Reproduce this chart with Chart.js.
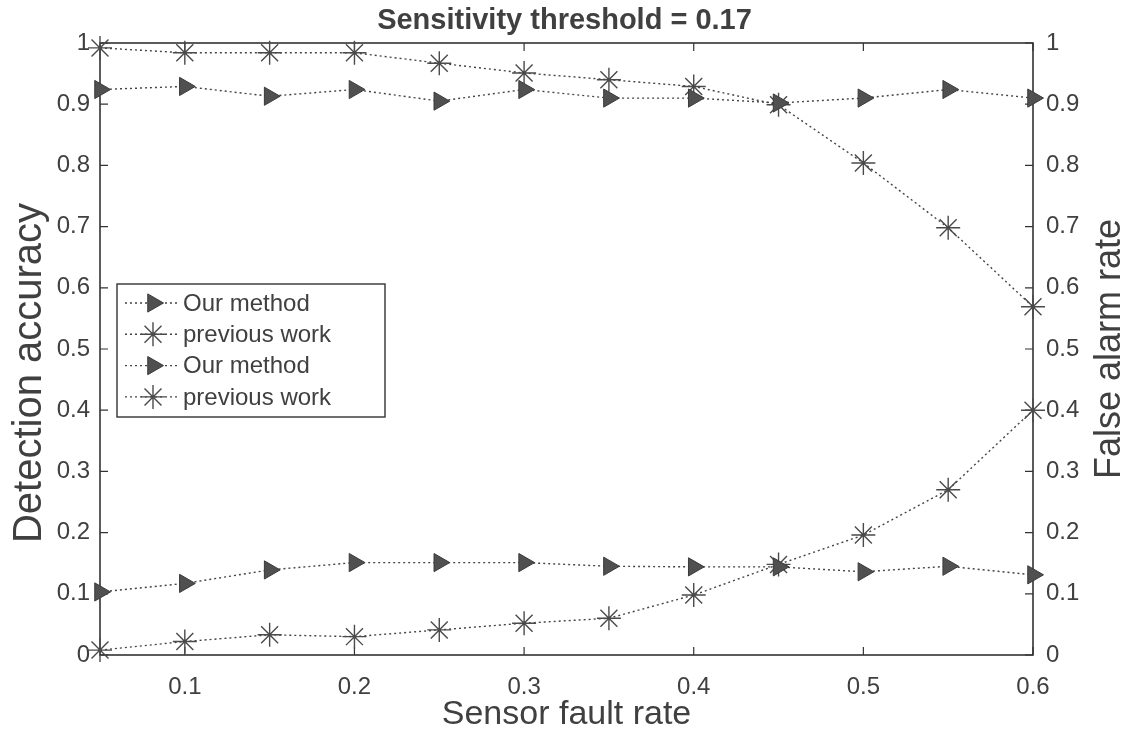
<!DOCTYPE html>
<html>
<head>
<meta charset="utf-8">
<script src="https://cdn.jsdelivr.net/npm/chart.js@4/dist/chart.umd.min.js"></script>
<style>
html,body{margin:0;padding:0;background:#ffffff;}
#wrap{width:1129px;height:736px;}
</style>
</head>
<body>
<div id="wrap"><canvas id="c" width="1129" height="736"></canvas></div>
<script>
// ---------------- data ----------------
const faultRates     = [0.05, 0.10, 0.15, 0.20, 0.25, 0.30, 0.35, 0.40, 0.45, 0.50, 0.55, 0.60];
const ourAccuracy    = [0.924, 0.929, 0.913, 0.924, 0.905, 0.924, 0.910, 0.910, 0.902, 0.910, 0.924, 0.910];
const prevAccuracy   = [0.992, 0.984, 0.984, 0.984, 0.967, 0.951, 0.940, 0.929, 0.899, 0.804, 0.698, 0.569];
const ourFalseAlarm  = [0.103, 0.117, 0.139, 0.151, 0.151, 0.151, 0.145, 0.144, 0.144, 0.136, 0.145, 0.131];
const prevFalseAlarm = [0.008, 0.022, 0.033, 0.030, 0.041, 0.052, 0.060, 0.098, 0.148, 0.196, 0.270, 0.400];
const xTicks = [0.1, 0.2, 0.3, 0.4, 0.5, 0.6];
const xTickLabels = ['0.1', '0.2', '0.3', '0.4', '0.5', '0.6'];
const yTicks = [0, 0.1, 0.2, 0.3, 0.4, 0.5, 0.6, 0.7, 0.8, 0.9, 1];
const yTickLabels = ['0', '0.1', '0.2', '0.3', '0.4', '0.5', '0.6', '0.7', '0.8', '0.9', '1'];
const seriesLabels = ['Our method', 'previous work', 'Our method', 'previous work'];
const titleText = 'Sensitivity threshold = 0.17';
const xTitle = 'Sensor fault rate';
const yLeftTitle = 'Detection accuracy';
const yRightTitle = 'False alarm rate';

// ---------------- styles ----------------
const FONT = '"Liberation Sans", Arial, Helvetica, sans-serif';
const TEXT = '#404040';
const LINE = '#444444';

function pts(arr) { return faultRates.map((x, i) => ({x: x, y: arr[i]})); }

function styleFor(kind) {
  if (kind === 'tri') {
    return {pointStyle: 'triangle', pointRotation: 90, pointRadius: 10.5,
            pointBackgroundColor: '#505050', pointBorderColor: '#3a3a3a', pointBorderWidth: 1};
  }
  return {pointStyle: 'star', pointRotation: 0, pointRadius: 12,
          pointBackgroundColor: '#555', pointBorderColor: '#4a4a4a', pointBorderWidth: 1.4};
}

function makeDs(label, arr, axis, kind) {
  return Object.assign({
    label: label,
    data: pts(arr),
    yAxisID: axis,
    borderColor: LINE,
    borderWidth: 1.4,
    borderDash: [2, 3],
    tension: 0,
    fill: false,
    clip: false
  }, styleFor(kind));
}

const datasets = [
  makeDs(seriesLabels[0], ourAccuracy, 'y', 'tri'),
  makeDs(seriesLabels[1], prevAccuracy, 'y', 'star'),
  makeDs(seriesLabels[2], ourFalseAlarm, 'y2', 'tri'),
  makeDs(seriesLabels[3], prevFalseAlarm, 'y2', 'star')
];

function drawMarker(ctx, ds, x, y) {
  ctx.save();
  ctx.fillStyle = ds.pointBackgroundColor;
  ctx.strokeStyle = ds.pointBorderColor;
  ctx.lineWidth = ds.pointBorderWidth;
  ctx.setLineDash([]);
  const opts = {pointStyle: ds.pointStyle, rotation: ds.pointRotation, radius: ds.pointRadius, borderWidth: ds.pointBorderWidth};
  if (Chart.helpers && Chart.helpers.drawPoint) {
    Chart.helpers.drawPoint(ctx, opts, x, y);
  }
  ctx.restore();
}

function rotatedText(ctx, text, size, cx, cy) {
  ctx.save();
  ctx.fillStyle = TEXT;
  ctx.font = size + 'px ' + FONT;
  ctx.textAlign = 'center';
  ctx.textBaseline = 'middle';
  ctx.translate(cx, cy);
  ctx.rotate(-Math.PI / 2);
  ctx.fillText(text, 0, 0);
  ctx.restore();
}

// frame with inward ticks (MATLAB box style), axis titles, legend
const framePlugin = {
  id: 'frame',
  beforeDatasetsDraw(chart) {
    const {ctx, chartArea: a, scales} = chart;
    ctx.save();
    ctx.strokeStyle = '#333333';
    ctx.lineWidth = 1.6;
    ctx.setLineDash([]);
    ctx.strokeRect(a.left, a.top, a.right - a.left, a.bottom - a.top);
    ctx.lineWidth = 1.2;
    const tl = 8;
    ctx.beginPath();
    xTicks.forEach(v => {
      const px = scales.x.getPixelForValue(v);
      ctx.moveTo(px, a.bottom); ctx.lineTo(px, a.bottom - tl);
      ctx.moveTo(px, a.top); ctx.lineTo(px, a.top + tl);
    });
    yTicks.forEach(v => {
      const pl = scales.y.getPixelForValue(v);
      ctx.moveTo(a.left, pl); ctx.lineTo(a.left + tl, pl);
      const pr = scales.y2.getPixelForValue(v);
      ctx.moveTo(a.right, pr); ctx.lineTo(a.right - tl, pr);
    });
    ctx.stroke();
    ctx.restore();
  },
  afterDraw(chart) {
    const {ctx, chartArea: a} = chart;
    // y axis titles, both reading bottom to top
    rotatedText(ctx, yLeftTitle, 40, 30, (a.top + a.bottom) / 2 + 24);
    rotatedText(ctx, yRightTitle, 36, 1110, (a.top + a.bottom) / 2);

    // legend box
    const bx = 117, by = 284, bw = 268, bh = 133;
    ctx.save();
    ctx.fillStyle = '#ffffff';
    ctx.fillRect(bx, by, bw, bh);
    ctx.strokeStyle = '#333333';
    ctx.lineWidth = 1.4;
    ctx.strokeRect(bx, by, bw, bh);
    chart.data.datasets.forEach((ds, i) => {
      const y = by + 19 + i * 31.3;
      ctx.strokeStyle = ds.borderColor;
      ctx.lineWidth = ds.borderWidth;
      ctx.setLineDash(ds.borderDash);
      ctx.beginPath();
      ctx.moveTo(bx + 8, y); ctx.lineTo(bx + 62, y);
      ctx.stroke();
      drawMarker(ctx, ds, bx + 36, y);
      ctx.setLineDash([]);
      ctx.fillStyle = TEXT;
      ctx.font = '24px ' + FONT;
      ctx.textAlign = 'left';
      ctx.textBaseline = 'middle';
      ctx.fillText(ds.label, bx + 66, y + 1);
    });
    ctx.restore();
  }
};

const tickFont = {family: FONT, size: 24};

new Chart(document.getElementById('c'), {
  type: 'line',
  data: {datasets: datasets},
  plugins: [framePlugin],
  options: {
    responsive: false,
    animation: false,
    devicePixelRatio: 1,
    layout: {padding: 0},
    plugins: {
      legend: {display: false},
      tooltip: {enabled: false},
      title: {
        display: true,
        text: titleText,
        color: TEXT,
        font: {family: FONT, size: 29, weight: 'bold'},
        padding: {top: 4, bottom: 4.2}
      }
    },
    scales: {
      x: {
        type: 'linear',
        position: 'bottom',
        min: 0.05,
        max: 0.6,
        afterBuildTicks: s => { s.ticks = xTicks.map(v => ({value: v})); },
        afterFit: s => { s.height = 81; },
        grid: {display: false, drawTicks: false},
        border: {display: false},
        ticks: {
          color: TEXT, font: tickFont, padding: 18, maxRotation: 0, minRotation: 0,
          callback: (v, i) => xTickLabels[i]
        },
        title: {display: true, text: xTitle, color: TEXT,
                font: {family: FONT, size: 34}, padding: {top: 0, bottom: 0.5}}
      },
      y: {
        type: 'linear',
        position: 'left',
        min: 0,
        max: 1,
        afterBuildTicks: s => { s.ticks = yTicks.map(v => ({value: v})); },
        afterFit: s => { s.width = 100; },
        grid: {display: false, drawTicks: false},
        border: {display: false},
        ticks: {color: TEXT, font: tickFont, padding: 10, callback: (v, i) => yTickLabels[i]},
        title: {display: false}
      },
      y2: {
        type: 'linear',
        position: 'right',
        min: 0,
        max: 1,
        afterBuildTicks: s => { s.ticks = yTicks.map(v => ({value: v})); },
        afterFit: s => { s.width = 96; },
        grid: {display: false, drawTicks: false},
        border: {display: false},
        ticks: {color: TEXT, font: tickFont, padding: 13, callback: (v, i) => yTickLabels[i]}
      }
    }
  }
});
</script>
</body>
</html>
